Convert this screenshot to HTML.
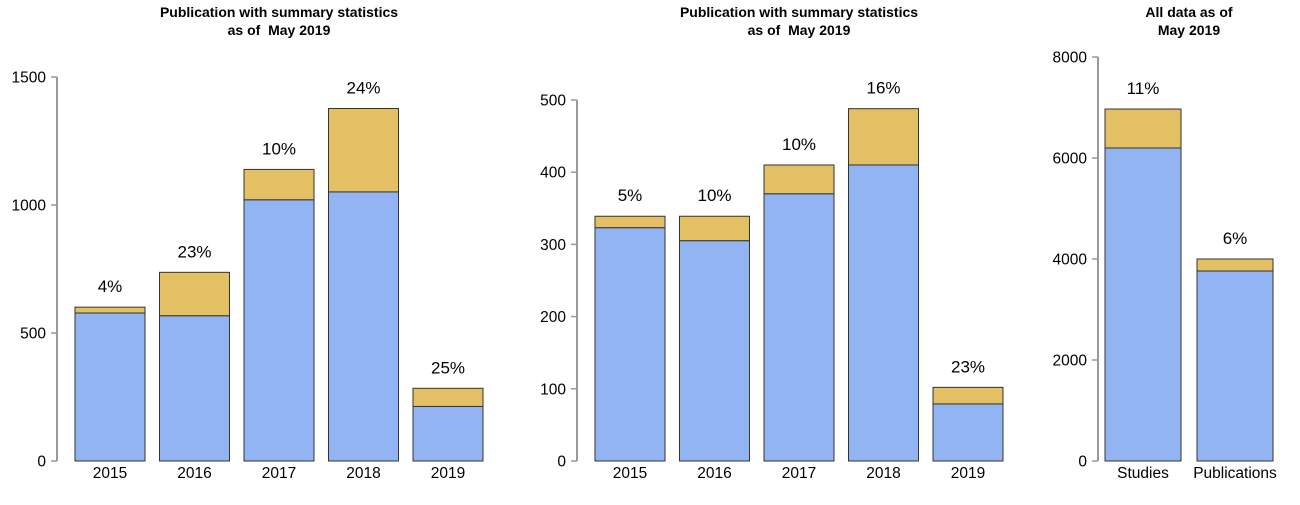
<!DOCTYPE html>
<html><head><meta charset="utf-8"><style>
body{margin:0;background:#fff}
svg text{font-family:"Liberation Sans",sans-serif;fill:#000;white-space:pre}
</style></head><body>
<svg id="c" width="1300" height="500"></svg>
<script>
const cats1=['2015','2016','2017','2018','2019'];
const blue1=[578,567,1020,1051,213];
const total1=[601,737,1139,1377,284];
const pct1=['4%','23%','10%','24%','25%'];
const ticks1=[0,500,1000,1500];
const cats2=['2015','2016','2017','2018','2019'];
const blue2=[323,305,370,410,79];
const total2=[339,339,410,488,102];
const pct2=['5%','10%','10%','16%','23%'];
const ticks2=[0,100,200,300,400,500];
const cats3=['Studies','Publications'];
const blue3=[6198,3762];
const total3=[6970,4000];
const pct3=['11%','6%'];
const ticks3=[0,2000,4000,6000,8000];
const NS='http://www.w3.org/2000/svg';
const svg=document.getElementById('c');
function mk(t,a,txt){const e=document.createElementNS(NS,t);for(const k in a)e.setAttribute(k,a[k]);if(txt!==undefined)e.textContent=txt;svg.appendChild(e);return e;}
function panel(p,cats,blue,total,pct,ticks,cfg){
  const y=v=>cfg.y0-(v/cfg.max)*(cfg.y0-cfg.yTop);
  const ax=mk('line',{x1:cfg.ax,x2:cfg.ax,y1:y(0),y2:y(cfg.max),stroke:'#999','stroke-width':2});
  
  
  ticks.forEach(t=>{
    const l=mk('line',{x1:cfg.ax-6,x2:cfg.ax,y1:y(t),y2:y(t),stroke:'#999','stroke-width':1.5});
    
    
    const tx=mk('text',{x:cfg.ax-11,y:y(t)+5.5,'text-anchor':'end','font-size':15.5},String(t));
    
    
  });
  cats.forEach((c,i)=>{
    const x=cfg.x0+i*cfg.step, w=cfg.w, cx=x+w/2;
    const g=mk('rect',{x:x,y:y(total[i]),width:w,height:y(blue[i])-y(total[i]),fill:'#E3C063',stroke:'#333','stroke-width':1});
    
    
    const b=mk('rect',{x:x,y:y(blue[i]),width:w,height:y(0)-y(blue[i]),fill:'#93B4F2',stroke:'#333','stroke-width':1});
    
    
    const pl=mk('text',{x:cx,y:y(total[i])-15,'text-anchor':'middle','font-size':17},pct[i]);
    
    
    const cl=mk('text',{x:cx,y:478,'text-anchor':'middle','font-size':15.5},c);
    
    
  });
  cfg.title.forEach((t,i)=>{
    const tt=mk('text',{x:cfg.tx,y:17+i*18,'text-anchor':'middle','font-size':14,'font-weight':'bold'},t);
    
    
  });
}
panel('left',cats1,blue1,total1,pct1,ticks1,{ax:57,y0:461,yTop:77,max:1500,x0:75,step:84.5,w:70,tx:279,title:['Publication with summary statistics','as of  May 2019']});
panel('middle',cats2,blue2,total2,pct2,ticks2,{ax:577,y0:461,yTop:100,max:500,x0:595,step:84.5,w:70,tx:799,title:['Publication with summary statistics','as of  May 2019']});
panel('right',cats3,blue3,total3,pct3,ticks3,{ax:1098,y0:461,yTop:57,max:8000,x0:1105,step:92,w:76,tx:1189,title:['All data as of','May 2019']});
</script>
</body></html>
